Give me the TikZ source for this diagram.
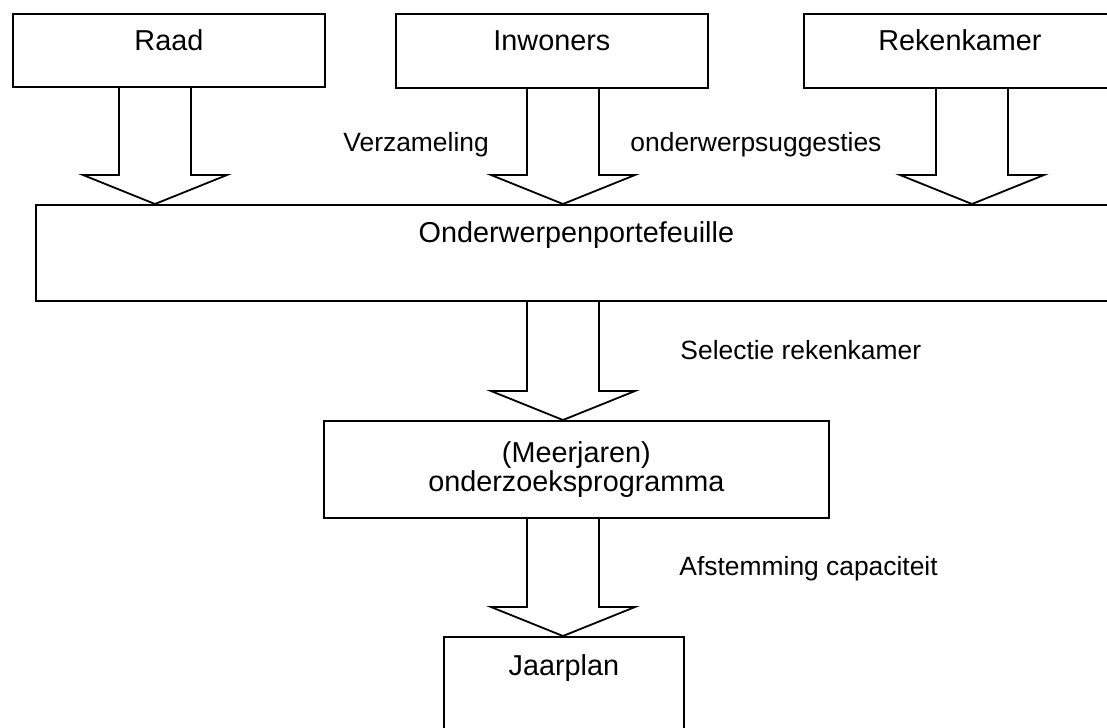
\documentclass[tikz,border=0pt]{standalone}
\usepackage{fontspec}
\setmainfont{Liberation Sans}
\usepackage{tikz}
\usetikzlibrary{arrows,calc,positioning}
\tikzset{
  box/.style={draw=black, line width=0.75pt, inner sep=0pt, anchor=north west,
    font=\fontsize{12}{11}\selectfont, align=center},
  lbl/.style={inner sep=0pt, anchor=base west, font=\fontsize{11}{13}\selectfont},
  fatarrow/.style={draw=black, line width=0.75pt, line join=miter}
}
% block arrow: column, source node, target node
\newcommand\blockarrow[3]{
\path (#1 |- #2.south) coordinate (#2-#3-s)
      (#1 |- #3.north) coordinate (#2-#3-t);
\draw[fatarrow] ($(#2-#3-s)+(-36,0)$) -- ($(#2-#3-t)+(-36,-29)$)
  -- ($(#2-#3-t)+(-72,-29)$) -- (#2-#3-t) -- ($(#2-#3-t)+(72,-29)$)
  -- ($(#2-#3-t)+(36,-29)$) -- ($(#2-#3-s)+(36,0)$);}

\begin{document}
\begin{tikzpicture}[x=0.416667pt, y=-0.416667pt]
\useasboundingbox (0,0) rectangle (1107,727);
\clip (0,0) rectangle (1107,727);
% sources
\node[box, minimum width=130pt, text height=15.42pt, text depth=15pt] (raad) at (12,13) {Raad};
\node[box, minimum width=130pt, text height=15.42pt, text depth=15.42pt] (inw) at (395,13) {Inwoners};
\node[box, minimum width=130pt, text height=15.42pt, text depth=15.42pt] (rek) at (803,13) {Rekenkamer};
% portefeuille
\node[box, minimum width=450.4pt, text height=15.83pt, text depth=24.17pt] (port) at (35,204) {Onderwerpenportefeuille};
% programma
\node[box, minimum width=210.4pt, minimum height=40.4pt] (prog) at (323,420) {(Meerjaren)\\onderzoeksprogramma};
% jaarplan
\node[box, minimum width=100pt, text height=16.25pt, text depth=41.67pt] (jaar) at (443,636) {Jaarplan};
% columns of the arrows
\coordinate (colL) at (155,0);
\coordinate (colM) at (563,0);
\coordinate (colR) at (972,0);
\blockarrow{colL}{raad}{port}
\blockarrow{colM}{inw}{port}
\blockarrow{colR}{rek}{port}
\blockarrow{colM}{port}{prog}
\blockarrow{colM}{prog}{jaar}
% labels
\node[lbl] (verz) at (343,151) {Verzameling};
\node[lbl] (sugg) at (630,151) {onderwerpsuggesties};
\node[lbl] (sel) at (680,359) {Selectie rekenkamer};
\node[lbl] (afst) at (679,575) {Afstemming capaciteit};
\end{tikzpicture}
\end{document}
